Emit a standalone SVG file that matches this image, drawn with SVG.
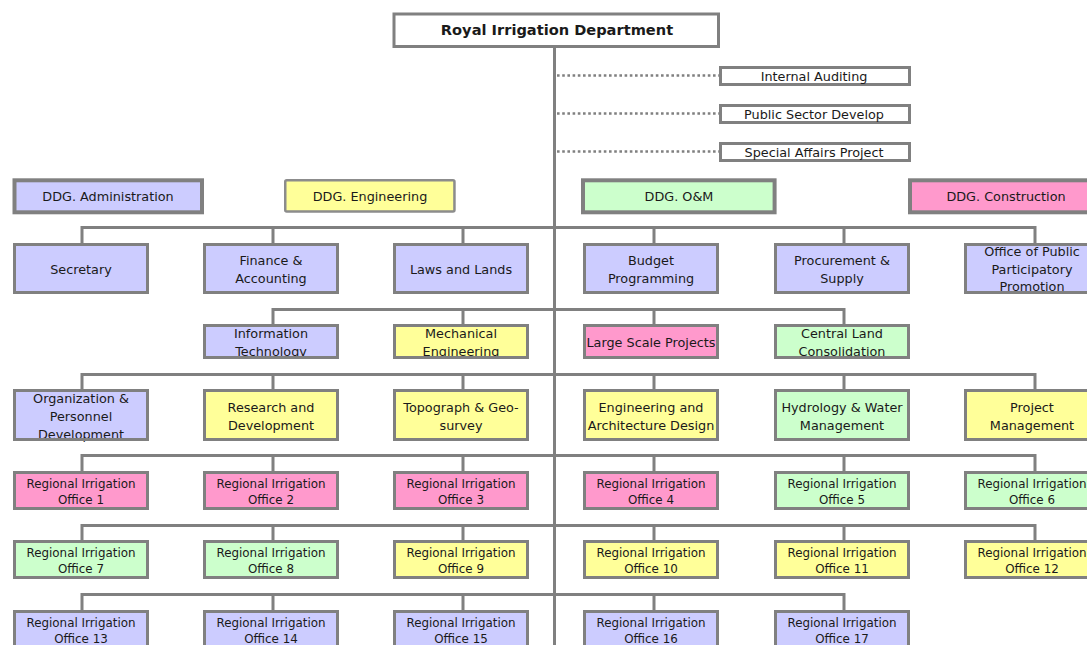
<svg xmlns="http://www.w3.org/2000/svg" width="1087" height="645" viewBox="0 0 1087 645">
  <style>
    .box { stroke: #808080; stroke-width: 3; }
    .frame { fill: none; stroke: #808080; stroke-width: 3; }
    .thick { stroke-width: 4; }
    .w { fill: #ffffff; }
    .b { fill: #ccccff; }
    .y { fill: #ffff99; }
    .g { fill: #ccffcc; }
    .p { fill: #ff99cc; }
    .t { font-family: "DejaVu Sans", "Liberation Sans", sans-serif; font-size: 12.8px; fill: #1a1a1a; text-anchor: middle; }
    .s { font-size: 11.9px; }
    .title { font-weight: bold; font-size: 14.6px; }
    .link { stroke: #808080; stroke-width: 3; fill: none; }
    .dot { stroke: #808080; stroke-width: 2.6; stroke-dasharray: 2.6 2.6; fill: none; }
  </style>

  <rect width="1087" height="645" fill="#ffffff"/>

  <!-- connectors -->
  <g id="connectors">
    <path class="link" d="M554.5 47 V645"/>
    <path class="dot" d="M557 75.5 H719 M557 113.5 H719 M557 151.5 H719"/>
    <!-- tier 1 -->
    <path class="link" d="M82 227.5 H1035 M82 226 V243 M273 226 V243 M463 226 V243 M654 226 V243 M844 226 V243 M1035 226 V243"/>
    <!-- tier 2 -->
    <path class="link" d="M273 309.5 H844 M273 308 V324 M463 308 V324 M654 308 V324 M844 308 V324"/>
    <!-- tier 3 -->
    <path class="link" d="M82 374.5 H1035 M82 373 V389 M273 373 V389 M463 373 V389 M654 373 V389 M844 373 V389 M1035 373 V389"/>
    <!-- regional offices 1-6 -->
    <path class="link" d="M82 455.5 H1035 M82 454 V471 M273 454 V471 M463 454 V471 M654 454 V471 M844 454 V471 M1035 454 V471"/>
    <!-- regional offices 7-12 -->
    <path class="link" d="M82 525.5 H1035 M82 524 V540 M273 524 V540 M463 524 V540 M654 524 V540 M844 524 V540 M1035 524 V540"/>
    <!-- regional offices 13-17 -->
    <path class="link" d="M82 594.5 H844 M82 593 V610 M273 593 V610 M463 593 V610 M654 593 V610 M844 593 V610"/>
  </g>

  <!-- head -->
  <g id="rid">
    <rect class="box w" x="394" y="14" width="324.5" height="32.5"/>
    <text class="t title" x="557" y="35">Royal Irrigation Department</text>
  </g>

  <!-- staff units -->
  <g id="internal-auditing">
    <rect class="box w" x="720.5" y="67.5" width="189" height="17"/>
    <text class="t" x="814" y="80.5">Internal Auditing</text>
  </g>
  <g id="public-sector">
    <rect class="box w" x="720.5" y="105.5" width="189" height="17"/>
    <text class="t" x="814" y="118.5">Public Sector Develop</text>
  </g>
  <g id="special-affairs">
    <rect class="box w" x="720.5" y="143.5" width="189" height="17"/>
    <text class="t" x="814" y="156.5">Special Affairs Project</text>
  </g>

  <!-- deputy directors general -->
  <g id="ddg-admin">
    <rect class="box thick b" x="14.5" y="180.3" width="187.5" height="32"/>
    <text class="t" x="108" y="200.5">DDG. Administration</text>
  </g>
  <g id="ddg-eng">
    <rect class="y" x="285.25" y="180.25" width="169.2" height="31.2" rx="1.5" stroke="#8c8c8c" stroke-width="2.5"/>
    <text class="t" x="370" y="200.5">DDG. Engineering</text>
  </g>
  <g id="ddg-om">
    <rect class="box thick g" x="583" y="180.3" width="191.6" height="32"/>
    <text class="t" x="679" y="200.5">DDG. O&amp;M</text>
  </g>
  <g id="ddg-construction">
    <rect class="box thick p" x="910" y="180.3" width="192" height="32"/>
    <text class="t" x="1006" y="200.5">DDG. Construction</text>
  </g>

  <!-- tier 1 -->
  <g id="secretary">
    <rect class="box b" x="14.5" y="244.5" width="133" height="48"/>
    <text class="t" x="81" y="273.8">Secretary</text>
  </g>
  <g id="finance">
    <rect class="box b" x="204.5" y="244.5" width="133" height="48"/>
    <text class="t" x="271" y="265.2">Finance &amp;</text>
    <text class="t" x="271" y="282.8">Accounting</text>
  </g>
  <g id="laws">
    <rect class="box b" x="394.5" y="244.5" width="133" height="48"/>
    <text class="t" x="461" y="273.8">Laws and Lands</text>
  </g>
  <g id="budget">
    <rect class="box b" x="584.5" y="244.5" width="133" height="48"/>
    <text class="t" x="651" y="265.2">Budget</text>
    <text class="t" x="651" y="282.8">Programming</text>
  </g>
  <g id="procurement">
    <rect class="box b" x="775.5" y="244.5" width="133" height="48"/>
    <text class="t" x="842" y="265.2">Procurement &amp;</text>
    <text class="t" x="842" y="282.8">Supply</text>
  </g>
  <g id="public-participation">
    <rect class="b" x="965.5" y="244.5" width="133" height="48"/>
    <text class="t" x="1032" y="256.2">Office of Public</text>
    <text class="t" x="1032" y="273.8">Participatory</text>
    <text class="t" x="1032" y="291.2">Promotion</text>
    <rect class="frame" x="965.5" y="244.5" width="133" height="48"/>
  </g>

  <!-- tier 2 -->
  <g id="it">
    <rect class="b" x="204.5" y="325.5" width="133" height="32"/>
    <text class="t" x="271" y="337.8">Information</text>
    <text class="t" x="271" y="356.2">Technology</text>
    <rect class="frame" x="204.5" y="325.5" width="133" height="32"/>
  </g>
  <g id="mechanical">
    <rect class="y" x="394.5" y="325.5" width="133" height="32"/>
    <text class="t" x="461" y="337.8">Mechanical</text>
    <text class="t" x="461" y="356.2">Engineering</text>
    <rect class="frame" x="394.5" y="325.5" width="133" height="32"/>
  </g>
  <g id="large-scale">
    <rect class="box p" x="584.5" y="325.5" width="133" height="32"/>
    <text class="t" x="651" y="346.8">Large Scale Projects</text>
  </g>
  <g id="land-consolidation">
    <rect class="g" x="775.5" y="325.5" width="133" height="32"/>
    <text class="t" x="842" y="337.8">Central Land</text>
    <text class="t" x="842" y="356.2">Consolidation</text>
    <rect class="frame" x="775.5" y="325.5" width="133" height="32"/>
  </g>

  <!-- tier 3 -->
  <g id="org-personnel">
    <rect class="b" x="14.5" y="390.5" width="133" height="49"/>
    <text class="t" x="81" y="403.2">Organization &amp;</text>
    <text class="t" x="81" y="421.2">Personnel</text>
    <text class="t" x="81" y="438.8">Development</text>
    <rect class="frame" x="14.5" y="390.5" width="133" height="49"/>
  </g>
  <g id="research">
    <rect class="box y" x="204.5" y="390.5" width="133" height="49"/>
    <text class="t" x="271" y="411.8">Research and</text>
    <text class="t" x="271" y="430.2">Development</text>
  </g>
  <g id="topograph">
    <rect class="box y" x="394.5" y="390.5" width="133" height="49"/>
    <text class="t" x="461" y="411.8">Topograph &amp; Geo-</text>
    <text class="t" x="461" y="430.2">survey</text>
  </g>
  <g id="eng-arch">
    <rect class="box y" x="584.5" y="390.5" width="133" height="49"/>
    <text class="t" x="651" y="411.8">Engineering and</text>
    <text class="t" x="651" y="430.2">Architecture Design</text>
  </g>
  <g id="hydrology">
    <rect class="box g" x="775.5" y="390.5" width="133" height="49"/>
    <text class="t" x="842" y="411.8">Hydrology &amp; Water</text>
    <text class="t" x="842" y="430.2">Management</text>
  </g>
  <g id="project-management">
    <rect class="box y" x="965.5" y="390.5" width="133" height="49"/>
    <text class="t" x="1032" y="411.8">Project</text>
    <text class="t" x="1032" y="430.2">Management</text>
  </g>

  <!-- regional irrigation offices 1-6 -->
  <g id="rio-1">
    <rect class="box p" x="14.5" y="472.5" width="133" height="36"/>
    <text class="t s" x="81" y="488.2">Regional Irrigation</text>
    <text class="t s" x="81" y="504.2">Office 1</text>
  </g>
  <g id="rio-2">
    <rect class="box p" x="204.5" y="472.5" width="133" height="36"/>
    <text class="t s" x="271" y="488.2">Regional Irrigation</text>
    <text class="t s" x="271" y="504.2">Office 2</text>
  </g>
  <g id="rio-3">
    <rect class="box p" x="394.5" y="472.5" width="133" height="36"/>
    <text class="t s" x="461" y="488.2">Regional Irrigation</text>
    <text class="t s" x="461" y="504.2">Office 3</text>
  </g>
  <g id="rio-4">
    <rect class="box p" x="584.5" y="472.5" width="133" height="36"/>
    <text class="t s" x="651" y="488.2">Regional Irrigation</text>
    <text class="t s" x="651" y="504.2">Office 4</text>
  </g>
  <g id="rio-5">
    <rect class="box g" x="775.5" y="472.5" width="133" height="36"/>
    <text class="t s" x="842" y="488.2">Regional Irrigation</text>
    <text class="t s" x="842" y="504.2">Office 5</text>
  </g>
  <g id="rio-6">
    <rect class="box g" x="965.5" y="472.5" width="133" height="36"/>
    <text class="t s" x="1032" y="488.2">Regional Irrigation</text>
    <text class="t s" x="1032" y="504.2">Office 6</text>
  </g>

  <!-- regional irrigation offices 7-12 -->
  <g id="rio-7">
    <rect class="box g" x="14.5" y="541.5" width="133" height="36"/>
    <text class="t s" x="81" y="557">Regional Irrigation</text>
    <text class="t s" x="81" y="572.6">Office 7</text>
  </g>
  <g id="rio-8">
    <rect class="box g" x="204.5" y="541.5" width="133" height="36"/>
    <text class="t s" x="271" y="557">Regional Irrigation</text>
    <text class="t s" x="271" y="572.6">Office 8</text>
  </g>
  <g id="rio-9">
    <rect class="box y" x="394.5" y="541.5" width="133" height="36"/>
    <text class="t s" x="461" y="557">Regional Irrigation</text>
    <text class="t s" x="461" y="572.6">Office 9</text>
  </g>
  <g id="rio-10">
    <rect class="box y" x="584.5" y="541.5" width="133" height="36"/>
    <text class="t s" x="651" y="557">Regional Irrigation</text>
    <text class="t s" x="651" y="572.6">Office 10</text>
  </g>
  <g id="rio-11">
    <rect class="box y" x="775.5" y="541.5" width="133" height="36"/>
    <text class="t s" x="842" y="557">Regional Irrigation</text>
    <text class="t s" x="842" y="572.6">Office 11</text>
  </g>
  <g id="rio-12">
    <rect class="box y" x="965.5" y="541.5" width="133" height="36"/>
    <text class="t s" x="1032" y="557">Regional Irrigation</text>
    <text class="t s" x="1032" y="572.6">Office 12</text>
  </g>

  <!-- regional irrigation offices 13-17 -->
  <g id="rio-13">
    <rect class="box b" x="14.5" y="611.5" width="133" height="40"/>
    <text class="t s" x="81" y="627.3">Regional Irrigation</text>
    <text class="t s" x="81" y="643">Office 13</text>
  </g>
  <g id="rio-14">
    <rect class="box b" x="204.5" y="611.5" width="133" height="40"/>
    <text class="t s" x="271" y="627.3">Regional Irrigation</text>
    <text class="t s" x="271" y="643">Office 14</text>
  </g>
  <g id="rio-15">
    <rect class="box b" x="394.5" y="611.5" width="133" height="40"/>
    <text class="t s" x="461" y="627.3">Regional Irrigation</text>
    <text class="t s" x="461" y="643">Office 15</text>
  </g>
  <g id="rio-16">
    <rect class="box b" x="584.5" y="611.5" width="133" height="40"/>
    <text class="t s" x="651" y="627.3">Regional Irrigation</text>
    <text class="t s" x="651" y="643">Office 16</text>
  </g>
  <g id="rio-17">
    <rect class="box b" x="775.5" y="611.5" width="133" height="40"/>
    <text class="t s" x="842" y="627.3">Regional Irrigation</text>
    <text class="t s" x="842" y="643">Office 17</text>
  </g>
</svg>
